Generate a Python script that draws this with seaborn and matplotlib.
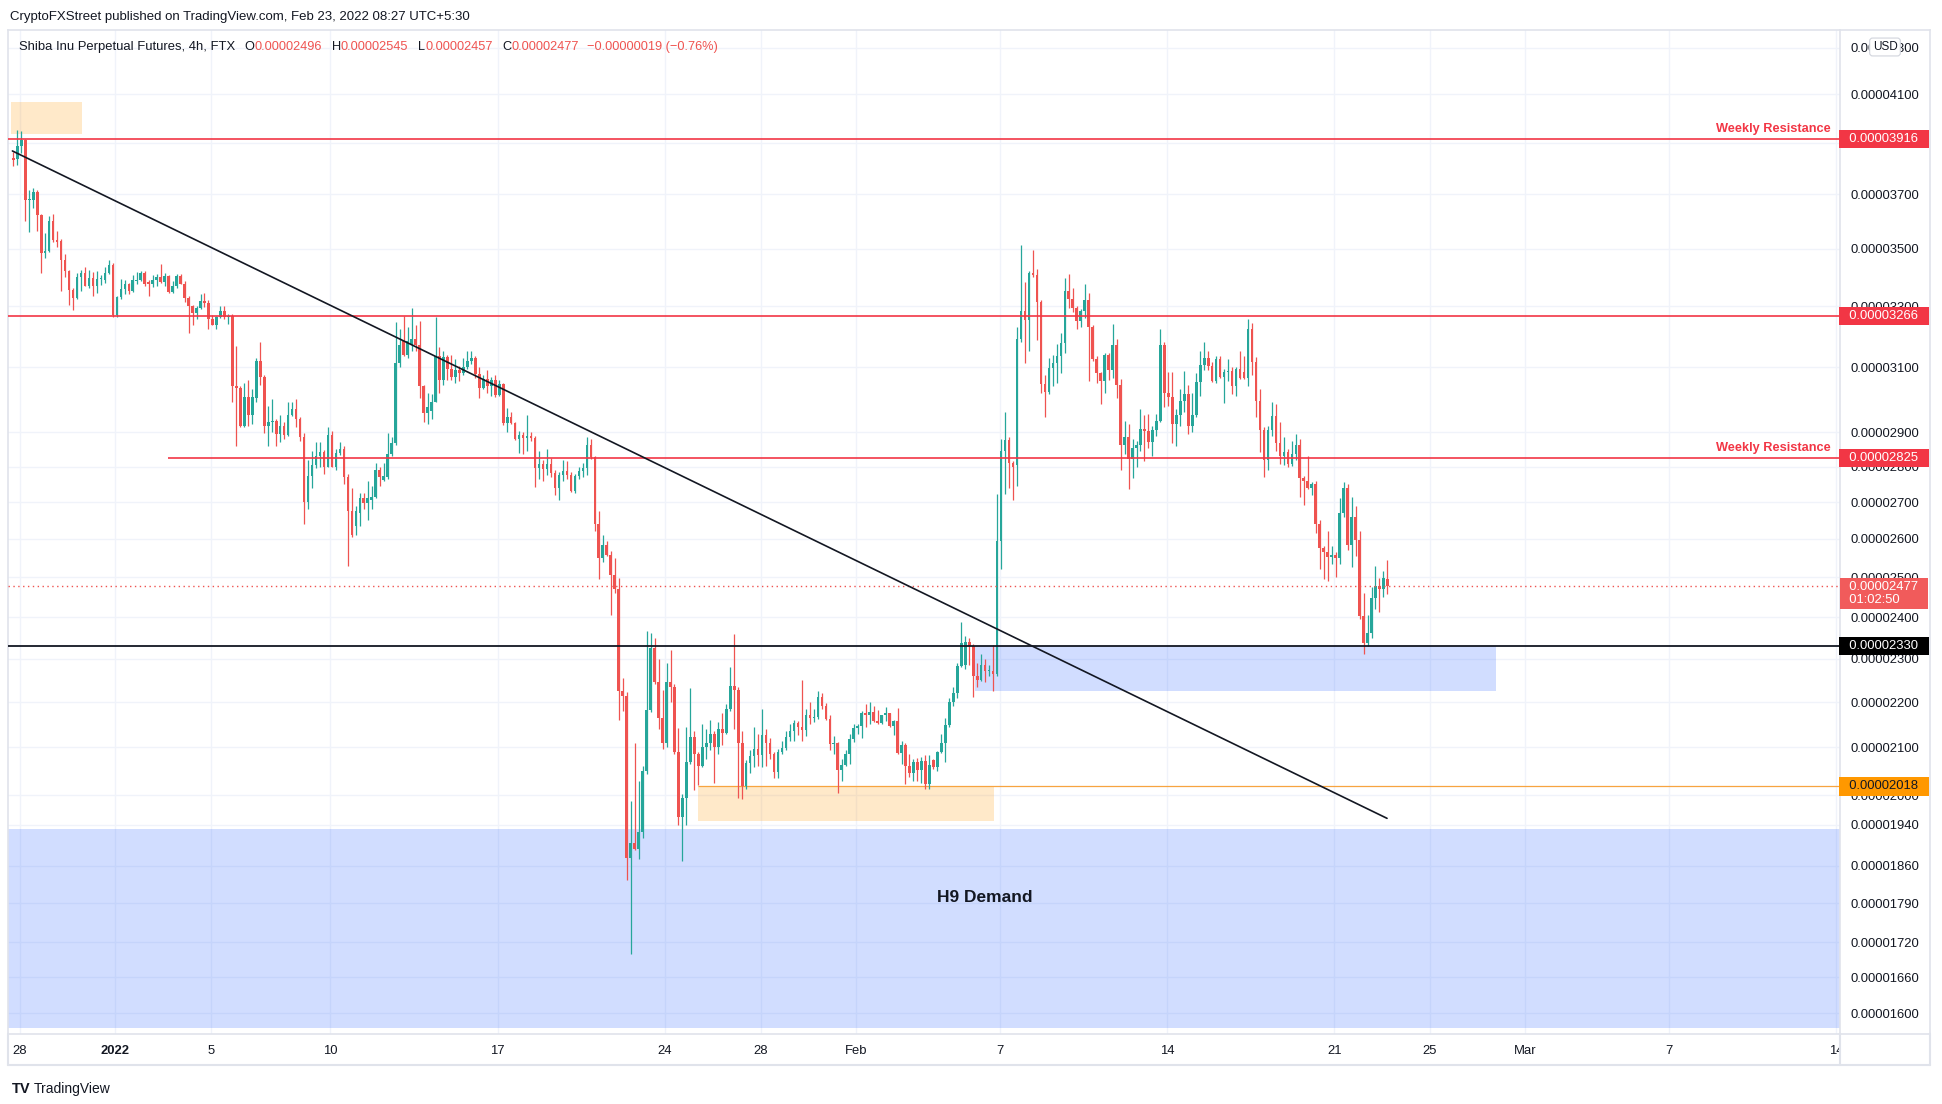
import numpy as np
import pandas as pd
import matplotlib
matplotlib.use("Agg")
import matplotlib.pyplot as plt
import matplotlib.dates as mdates
import matplotlib.transforms as mtransforms
from matplotlib.lines import Line2D
from matplotlib.patches import Rectangle
from matplotlib.ticker import FixedLocator, FuncFormatter, NullLocator, NullFormatter
import seaborn as sns

SCALE = 1e-8  # all prices below are in units of 0.00000001 USD

# SHIB perp, 4h candles (times in UTC+5:30)
first_bar = "2021-12-27 17:30"
opens = [
    3840, 3835, 3887, 3912, 3677, 3680, 3708, 3623, 3485, 3490,
    3600, 3532, 3528, 3460, 3420, 3355, 3327, 3400, 3415, 3370,
    3395, 3368, 3392, 3390, 3415, 3440, 3270, 3330, 3358, 3375,
    3350, 3386, 3390, 3414, 3381, 3376, 3388, 3400, 3382, 3403,
    3347, 3368, 3403, 3377, 3328, 3300, 3278, 3292, 3317, 3312,
    3258, 3238, 3263, 3282, 3263, 3268, 3042, 3035, 2920, 3008,
    2952, 3005, 3118, 3070, 2918, 2930, 2935, 2895, 2918, 2893,
    2952, 2970, 2940, 2885, 2700, 2773, 2803, 2830, 2843, 2800,
    2892, 2800, 2838, 2850, 2770, 2675, 2635, 2670, 2712, 2697,
    2705, 2715, 2790, 2762, 2770, 2836, 2868, 3112, 3185, 3140,
    3172, 3192, 3170, 3040, 2958, 2965, 2992, 3135, 3058, 3132,
    3095, 3070, 3090, 3080, 3100, 3120, 3128, 3078, 3035, 3062,
    3040, 3060, 3013, 3047, 2927, 2946, 2927, 2880, 2893, 2882,
    2888, 2882, 2795, 2808, 2793, 2808, 2782, 2740, 2775, 2787,
    2775, 2730, 2772, 2788, 2795, 2863, 2826, 2640, 2550, 2585,
    2557, 2505, 2470, 2225, 2213, 1875, 1905, 1892, 1925, 2050,
    2182, 2325, 2245, 2165, 2110, 2246, 2235, 2090, 1955, 1995,
    2068, 2122, 2085, 2060, 2100, 2110, 2130, 2100, 2140, 2132,
    2185, 2237, 2228, 2110, 2018, 2066, 2082, 2097, 2084, 2128,
    2110, 2085, 2047, 2090, 2098, 2122, 2135, 2153, 2145, 2137,
    2170, 2165, 2167, 2212, 2191, 2162, 2107, 2109, 2052, 2063,
    2086, 2118, 2142, 2146, 2175, 2170, 2178, 2158, 2153, 2170,
    2175, 2146, 2158, 2088, 2105, 2061, 2046, 2070, 2052, 2072,
    2022, 2073, 2058, 2090, 2110, 2148, 2201, 2220, 2283, 2285,
    2340, 2330, 2260, 2250, 2284, 2270, 2272, 2265, 2595, 2845,
    2877, 2810, 2805, 3191, 3283, 3252, 3415, 3405, 3315, 3048,
    3023, 3097, 3112, 3135, 3178, 3350, 3325, 3295, 3250, 3285,
    3320, 3230, 3125, 3080, 3055, 3138, 3090, 3172, 3043, 2862,
    2885, 2821, 2855, 2862, 2910, 2905, 2870, 2908, 2935, 3172,
    3020, 3007, 2925, 2953, 2993, 3015, 2920, 2953, 3053, 3108,
    3130, 3105, 3055, 3127, 3068, 3083, 3088, 3041, 3095, 3085,
    3065, 3222, 3115, 2995, 2908, 2818, 2908, 2950, 2868, 2830,
    2842, 2807, 2835, 2862, 2767, 2760, 2740, 2750, 2640, 2575,
    2565, 2552, 2558, 2550, 2670, 2740, 2585, 2660, 2598, 2403,
    2336, 2360, 2448, 2477, 2470, 2496,
]
highs = [
    3865, 3950, 3948, 3915, 3716, 3725, 3716, 3625, 3555, 3620,
    3625, 3565, 3535, 3480, 3425, 3360, 3415, 3425, 3435, 3425,
    3417, 3420, 3405, 3435, 3460, 3450, 3335, 3392, 3390, 3380,
    3405, 3417, 3420, 3420, 3390, 3405, 3410, 3445, 3412, 3405,
    3385, 3410, 3410, 3385, 3335, 3305, 3300, 3340, 3345, 3320,
    3270, 3268, 3300, 3300, 3272, 3272, 3168, 3040, 3050, 3058,
    3030, 3128, 3180, 3075, 2978, 3000, 2940, 2952, 2930, 2990,
    2990, 3000, 2945, 2897, 2820, 2845, 2872, 2870, 2848, 2915,
    2905, 2850, 2870, 2858, 2780, 2740, 2690, 2725, 2725, 2760,
    2745, 2810, 2800, 2810, 2897, 2885, 3248, 3225, 3266, 3230,
    3292, 3235, 3250, 3045, 3020, 3015, 3262, 3165, 3150, 3140,
    3140, 3125, 3105, 3130, 3150, 3150, 3135, 3100, 3075, 3090,
    3070, 3075, 3060, 3050, 2973, 2960, 2932, 2905, 2900, 2952,
    2900, 2888, 2846, 2820, 2850, 2825, 2790, 2785, 2820, 2815,
    2785, 2780, 2800, 2810, 2886, 2880, 2830, 2675, 2610, 2595,
    2567, 2550, 2497, 2255, 2222, 1988, 2110, 2030, 2060, 2365,
    2360, 2350, 2300, 2227, 2290, 2320, 2240, 2143, 2003, 2145,
    2232, 2135, 2090, 2150, 2140, 2160, 2135, 2155, 2175, 2195,
    2280, 2358, 2235, 2135, 2073, 2095, 2145, 2130, 2185, 2140,
    2120, 2090, 2097, 2115, 2135, 2150, 2160, 2158, 2250, 2185,
    2200, 2185, 2225, 2220, 2198, 2170, 2125, 2112, 2075, 2095,
    2130, 2150, 2152, 2180, 2195, 2200, 2190, 2182, 2172, 2188,
    2176, 2160, 2187, 2113, 2110, 2085, 2075, 2078, 2080, 2083,
    2083, 2076, 2093, 2130, 2165, 2210, 2235, 2290, 2388, 2355,
    2350, 2335, 2290, 2310, 2300, 2285, 2332, 2721, 2880, 2960,
    2885, 2815, 3230, 3513, 3382, 3420, 3495, 3428, 3320, 3075,
    3130, 3140, 3175, 3210, 3395, 3410, 3360, 3300, 3290, 3375,
    3345, 3235, 3135, 3085, 3145, 3145, 3240, 3190, 3062, 2935,
    2925, 2880, 2875, 2970, 2952, 2955, 2920, 2955, 3223, 3180,
    3085, 3085, 2970, 3030, 3088, 3045, 3020, 3080, 3150, 3180,
    3150, 3115, 3135, 3135, 3095, 3125, 3100, 3100, 3150, 3135,
    3255, 3244, 3133, 3032, 2915, 2920, 2990, 2985, 2930, 2885,
    2850, 2875, 2895, 2880, 2772, 2830, 2755, 2760, 2652, 2580,
    2620, 2580, 2565, 2710, 2755, 2750, 2715, 2688, 2620, 2460,
    2405, 2475, 2530, 2497, 2515, 2545,
]
lows = [
    3810, 3812, 3860, 3600, 3560, 3650, 3565, 3415, 3467, 3488,
    3525, 3505, 3350, 3400, 3305, 3287, 3325, 3350, 3368, 3362,
    3335, 3345, 3372, 3380, 3410, 3262, 3262, 3325, 3340, 3340,
    3348, 3375, 3385, 3368, 3335, 3365, 3368, 3378, 3368, 3343,
    3345, 3362, 3375, 3313, 3210, 3238, 3258, 3290, 3297, 3225,
    3236, 3225, 3260, 3255, 3240, 2990, 2860, 2915, 2915, 2918,
    2925, 2990, 3045, 2897, 2860, 2900, 2860, 2870, 2880, 2890,
    2948, 2915, 2875, 2640, 2680, 2740, 2795, 2800, 2780, 2798,
    2798, 2790, 2833, 2750, 2530, 2605, 2610, 2635, 2680, 2650,
    2680, 2712, 2745, 2760, 2765, 2830, 2862, 3100, 3135, 3130,
    3150, 3150, 3005, 2930, 2925, 2940, 2990, 3020, 3045, 3060,
    3060, 3050, 3055, 3075, 3095, 3110, 3065, 3005, 3030, 3020,
    3010, 3008, 3010, 2922, 2900, 2925, 2878, 2840, 2835, 2845,
    2875, 2742, 2765, 2760, 2775, 2770, 2720, 2705, 2760, 2763,
    2727, 2725, 2765, 2770, 2775, 2822, 2622, 2495, 2540, 2555,
    2405, 2460, 2160, 2180, 1833, 1700, 1890, 1873, 1915, 2044,
    2178, 2240, 2140, 2097, 2100, 2200, 2085, 1940, 1870, 1940,
    2065, 2010, 2020, 2058, 2075, 2095, 2025, 2085, 2105, 2130,
    2180, 2140, 1995, 1993, 2012, 2045, 2058, 2060, 2058, 2060,
    2075, 2036, 2036, 2085, 2095, 2115, 2115, 2128, 2113, 2125,
    2150, 2155, 2162, 2185, 2160, 2095, 2085, 2005, 2030, 2060,
    2065, 2112, 2130, 2120, 2145, 2150, 2155, 2150, 2150, 2158,
    2145, 2128, 2086, 2065, 2022, 2037, 2030, 2030, 2025, 2012,
    2012, 2055, 2050, 2088, 2070, 2145, 2190, 2210, 2280, 2275,
    2285, 2212, 2235, 2248, 2245, 2260, 2225, 2260, 2520, 2721,
    2740, 2705, 2745, 3180, 3113, 3150, 3400, 3186, 3018, 2945,
    3015, 3040, 3050, 3080, 3145, 3293, 3280, 3225, 3230, 3260,
    3055, 3120, 3050, 2985, 3020, 3058, 3065, 3005, 2790, 2835,
    2736, 2766, 2800, 2845, 2815, 2855, 2830, 2890, 2930, 2975,
    2980, 2868, 2860, 2920, 2960, 2895, 2900, 2945, 3010, 3090,
    3090, 3052, 3050, 3065, 2987, 3055, 3015, 3010, 3062, 3062,
    3040, 3075, 2945, 2842, 2770, 2790, 2890, 2845, 2808, 2805,
    2800, 2802, 2820, 2715, 2692, 2735, 2720, 2615, 2522, 2495,
    2490, 2535, 2500, 2535, 2660, 2570, 2525, 2555, 2395, 2310,
    2330, 2350, 2420, 2412, 2450, 2457,
]
closes = [
    3832, 3888, 3912, 3677, 3680, 3708, 3623, 3485, 3493, 3600,
    3532, 3525, 3460, 3420, 3355, 3327, 3400, 3415, 3370, 3395,
    3368, 3392, 3395, 3415, 3440, 3270, 3330, 3358, 3375, 3350,
    3390, 3390, 3414, 3377, 3376, 3388, 3400, 3382, 3403, 3347,
    3370, 3403, 3377, 3328, 3300, 3278, 3292, 3317, 3312, 3258,
    3238, 3263, 3282, 3263, 3268, 3040, 3035, 2920, 3008, 2952,
    3008, 3118, 3070, 2918, 2930, 2935, 2895, 2918, 2893, 2952,
    2970, 2940, 2885, 2700, 2773, 2803, 2830, 2843, 2800, 2892,
    2800, 2838, 2850, 2770, 2675, 2610, 2675, 2712, 2697, 2712,
    2715, 2790, 2770, 2773, 2836, 2868, 3112, 3172, 3140, 3185,
    3192, 3170, 3040, 2958, 2975, 2992, 3135, 3058, 3132, 3095,
    3070, 3090, 3080, 3100, 3120, 3128, 3078, 3035, 3062, 3040,
    3060, 3013, 3047, 2927, 2946, 2927, 2880, 2893, 2882, 2888,
    2882, 2795, 2808, 2793, 2808, 2782, 2740, 2775, 2787, 2775,
    2730, 2772, 2788, 2795, 2863, 2826, 2640, 2550, 2585, 2557,
    2505, 2470, 2225, 2213, 1875, 1905, 1892, 1925, 2050, 2182,
    2325, 2245, 2165, 2110, 2246, 2235, 2090, 1955, 1995, 2068,
    2122, 2085, 2060, 2100, 2110, 2130, 2100, 2140, 2132, 2185,
    2237, 2228, 2110, 2018, 2066, 2082, 2097, 2084, 2128, 2110,
    2085, 2047, 2090, 2098, 2122, 2135, 2153, 2145, 2137, 2170,
    2165, 2167, 2212, 2191, 2162, 2107, 2109, 2052, 2063, 2086,
    2118, 2142, 2146, 2175, 2170, 2178, 2158, 2153, 2170, 2175,
    2146, 2158, 2088, 2105, 2061, 2046, 2070, 2052, 2072, 2022,
    2063, 2058, 2090, 2110, 2148, 2201, 2220, 2283, 2338, 2340,
    2330, 2260, 2250, 2284, 2270, 2272, 2265, 2595, 2845, 2877,
    2810, 2800, 3191, 3283, 3252, 3415, 3405, 3315, 3048, 3023,
    3097, 3112, 3135, 3178, 3350, 3325, 3295, 3250, 3285, 3320,
    3230, 3125, 3080, 3055, 3138, 3090, 3172, 3043, 2862, 2885,
    2821, 2855, 2862, 2910, 2905, 2870, 2908, 2935, 3172, 3020,
    3007, 2925, 2953, 2993, 3015, 2920, 2953, 3053, 3108, 3130,
    3105, 3055, 3127, 3068, 3083, 3088, 3041, 3095, 3065, 3065,
    3222, 3115, 2995, 2908, 2818, 2908, 2950, 2868, 2830, 2842,
    2807, 2835, 2862, 2767, 2760, 2740, 2750, 2640, 2575, 2565,
    2552, 2558, 2550, 2670, 2740, 2585, 2660, 2598, 2403, 2336,
    2360, 2448, 2477, 2470, 2497, 2477,
]

# axes
price_ticks = [4300, 4100, 3900, 3700, 3500, 3300, 3100, 2900, 2800, 2700, 2600,
               2500, 2400, 2300, 2200, 2100, 2000, 1940, 1860, 1790, 1720, 1660, 1600]
date_ticks = ["2021-12-28", "2022-01-01", "2022-01-05", "2022-01-10", "2022-01-17",
              "2022-01-24", "2022-01-28", "2022-02-01", "2022-02-07", "2022-02-14",
              "2022-02-21", "2022-02-25", "2022-03-01", "2022-03-07", "2022-03-14"]
date_labels = ["28", "2022", "5", "10", "17", "24", "28", "Feb", "7", "14", "21", "25", "Mar", "7", "14"]
x_range = ["2021-12-27 12:10", "2022-03-14 04:00"]
y_range = [1566, 4378]

# drawings
resistance = [3916, 3266, 2825]
resistance_from = ["2021-12-27 12:10", "2021-12-27 12:10", "2022-01-03 04:40"]
weekly_levels = [3916, 2825]
last_price = 2477
countdown = "01:02:50"
support = 2330
range_low = 2018
range_low_from = "2022-01-25 09:30"

zone_start = ["2021-12-27 15:30", "2022-01-25 09:30", "2022-02-05 23:00"]
zone_end = ["2021-12-30 14:30", "2022-02-06 18:20", "2022-02-27 18:40"]
zone_low = [3936, 1948, 2224]
zone_high = [4067, 2018, 2330]
zone_color = ["#ff9800", "#ff9800", "#2962ff"]
demand = [1576, 1931]
demand_label_at = ("2022-02-06 09:30", 1800)

trend_time = ["2021-12-27 16:35", "2022-02-23 05:05"]
trend_price = [3868, 1953]

header = "CryptoFXStreet published on TradingView.com, Feb 23, 2022 08:27 UTC+5:30"
symbol = "Shiba Inu Perpetual Futures, 4h, FTX"
change_text = "\u22120.00000019 (\u22120.76%)"

UP = "#26a69a"
DOWN = "#ef5350"
RED = "#f23645"
INK = "#131722"
BORDER = "#e0e3eb"
GRID = "#f0f3fa"
W, H = 1942, 1104


def fx(px):
    return px / W


def fy(py):
    return 1 - py / H


def rect(x0, y0, x1, y1):
    return [fx(x0), fy(y1), (x1 - x0) / W, (y1 - y0) / H]


def main():
    sns.set_theme(style="white")
    plt.rcParams["font.family"] = ["Liberation Sans", "DejaVu Sans"]

    fig = plt.figure(figsize=(W / 100, H / 100), dpi=100)
    fig.patch.set_facecolor("white")
    ax = fig.add_axes(rect(8, 30, 1840, 1034))
    panel = fig.add_axes(rect(1840, 30, 1930, 1034), sharey=ax)
    ax.set_yscale("log")

    t = pd.date_range(first_bar, periods=len(closes), freq="4h")
    o, h, l, c = (np.array(v, float) * SCALE for v in (opens, highs, lows, closes))
    colors = np.where(c >= o, UP, DOWN)
    body_lo = np.minimum(o, c)
    body_hi = np.maximum(np.maximum(o, c), body_lo * 1.0012)

    # zones
    for s, e, lo, hi, col in zip(zone_start, zone_end, zone_low, zone_high, zone_color):
        ax.fill_between(pd.to_datetime([s, e]), lo * SCALE, hi * SCALE,
                        color=col, alpha=0.21, lw=0, zorder=1)
    ax.axhspan(demand[0] * SCALE, demand[1] * SCALE, color="#2962ff", alpha=0.21, lw=0, zorder=1)
    ax.text(pd.Timestamp(demand_label_at[0]), demand_label_at[1] * SCALE, "H9 Demand",
            ha="center", va="center", fontsize=12.5, fontweight="bold", color=INK, zorder=6)

    # candles
    ax.vlines(t, np.minimum(l, body_lo), np.maximum(h, body_hi), colors=colors, lw=0.9, zorder=3)
    ax.bar(t, body_hi - body_lo, bottom=body_lo, width=0.66 / 6, color=colors, lw=0, zorder=4)

    # levels
    xmax = pd.Timestamp(x_range[1])
    for lvl, start in zip(resistance, resistance_from):
        ax.hlines(lvl * SCALE, pd.Timestamp(start), xmax, color=RED, lw=1.2, zorder=5)
    ax.hlines(range_low * SCALE, pd.Timestamp(range_low_from), xmax, color="#f7a440", lw=0.9, zorder=2)
    ax.axhline(last_price * SCALE, color=DOWN, lw=1, ls=(0, (1, 2.5)), zorder=5)
    ax.axhline(support * SCALE, color=INK, lw=1.3, zorder=5)
    sns.lineplot(x=pd.to_datetime(trend_time), y=np.array(trend_price) * SCALE,
                 ax=ax, color=INK, lw=1.2, zorder=5)
    ax.set(xlabel="", ylabel="")

    ytr = mtransforms.blended_transform_factory(ax.transAxes, ax.transData)
    for lvl in weekly_levels:
        ax.annotate("Weekly Resistance", xy=(0.995, lvl * SCALE), xycoords=ytr,
                    xytext=(0, 2.5), textcoords="offset points", ha="right", va="bottom",
                    fontsize=9.2, fontweight="bold", color=RED, zorder=6)

    # limits, ticks, grid
    ax.set_xlim(pd.Timestamp(x_range[0]), xmax)
    ax.set_ylim(y_range[0] * SCALE, y_range[1] * SCALE)
    ax.yaxis.set_major_locator(FixedLocator(np.array(price_ticks) * SCALE))
    ax.yaxis.set_minor_locator(NullLocator())
    ax.yaxis.set_major_formatter(FuncFormatter(lambda v, _: f"{v:.8f}"))
    ax.yaxis.set_minor_formatter(NullFormatter())
    ax.tick_params(axis="y", which="both", left=False, right=False, labelleft=False, labelright=False)
    ax.set_xticks(mdates.date2num(pd.to_datetime(date_ticks)), labels=date_labels)
    ax.xaxis.set_minor_locator(NullLocator())
    ax.tick_params(axis="x", length=0, pad=8, labelsize=9.4, labelcolor=INK)
    ax.grid(True, which="major", color=GRID, lw=1)
    ax.set_axisbelow(True)
    for s in ax.spines.values():
        s.set_color(BORDER)
        s.set_linewidth(1.2)
    ax.spines["right"].set_visible(False)

    panel.set_facecolor("white")
    panel.set_xlim(0, 1)
    panel.tick_params(axis="x", bottom=False, labelbottom=False)
    panel.tick_params(axis="y", which="both", left=False, right=False, labelleft=False,
                      labelright=True, length=0, pad=-57.6, labelsize=9.4, labelcolor=INK)
    for s in panel.spines.values():
        s.set_color(BORDER)
        s.set_linewidth(1.2)

    # price tags
    ptr = mtransforms.blended_transform_factory(panel.transAxes, panel.transData)
    tags = [(3916, RED, "white"), (3266, RED, "white"), (2825, RED, "white"),
            (support, "#000000", "white"), (range_low, "#ff9800", INK)]
    for price, face, tc in tags:
        panel.text(0.489, price * SCALE, f"  {price * SCALE:.8f}  ", transform=ptr,
                   ha="center", va="center", fontsize=9.4, color=tc, zorder=6, clip_on=False,
                   bbox=dict(boxstyle="square,pad=0.25", fc=face, ec="none"))
    panel.annotate(f"  {last_price * SCALE:.8f}  \n  {countdown}", xy=(0.489, last_price * SCALE),
                   xycoords=ptr, xytext=(0, 4), textcoords="offset points", ha="center",
                   va="top", multialignment="left", linespacing=1.15, fontsize=9.4,
                   color="white", zorder=6,
                   bbox=dict(boxstyle="square,pad=0.2", fc="#f15b5b", ec="none"))
    panel.text(0.5, 1 - 17 / 1004, "USD", transform=panel.transAxes, ha="center", va="center",
               fontsize=8.5, color=INK, zorder=7,
               bbox=dict(boxstyle="round,pad=0.25", fc="white", ec="#d1d4dc", lw=0.8))

    # frame of the time strip
    fig.add_artist(Rectangle((fx(1840), fy(1064)), 89 / W, 29 / H, fc="white", ec="none", zorder=2))
    for xs, ys in [([8, 1930], [1065, 1065]), ([8, 8], [1034, 1065]),
                   ([1930, 1930], [1034, 1065]), ([1840, 1840], [1034, 1065])]:
        fig.add_artist(Line2D([fx(x) for x in xs], [fy(y) for y in ys], color=BORDER, lw=1.5, zorder=3))

    # header and legend
    fig.text(fx(10), fy(17), header, fontsize=9.5, color=INK, va="center")
    prev = fig.text(fx(19), fy(47), symbol, fontsize=9.4, color=INK, va="center")
    pieces = [("O", INK, 7), (f"{opens[-1] * SCALE:.8f}", DOWN, 0),
              ("H", INK, 7), (f"{highs[-1] * SCALE:.8f}", DOWN, 0),
              ("L", INK, 7), (f"{lows[-1] * SCALE:.8f}", DOWN, 0),
              ("C", INK, 7), (f"{closes[-1] * SCALE:.8f}", DOWN, 0),
              (change_text, DOWN, 6)]
    for txt, col, gap in pieces:
        prev = ax.annotate(txt, xy=(1, 0), xycoords=prev, xytext=(gap, 0),
                           textcoords="offset points", ha="left", va="bottom",
                           fontsize=9.2, color=col)

    logo = fig.text(fx(12), fy(1089), "TV", fontsize=10.5, fontweight="heavy", color=INK, va="center")
    ax.annotate("TradingView", xy=(1, 0), xycoords=logo, xytext=(2, 0), textcoords="offset points",
                ha="left", va="bottom", fontsize=10, color=INK)

    fig.canvas.draw()
    ax.get_xticklabels()[1].set_fontweight("bold")
    fig.savefig("out.png", dpi=100)
    plt.close(fig)


if __name__ == "__main__":
    main()
